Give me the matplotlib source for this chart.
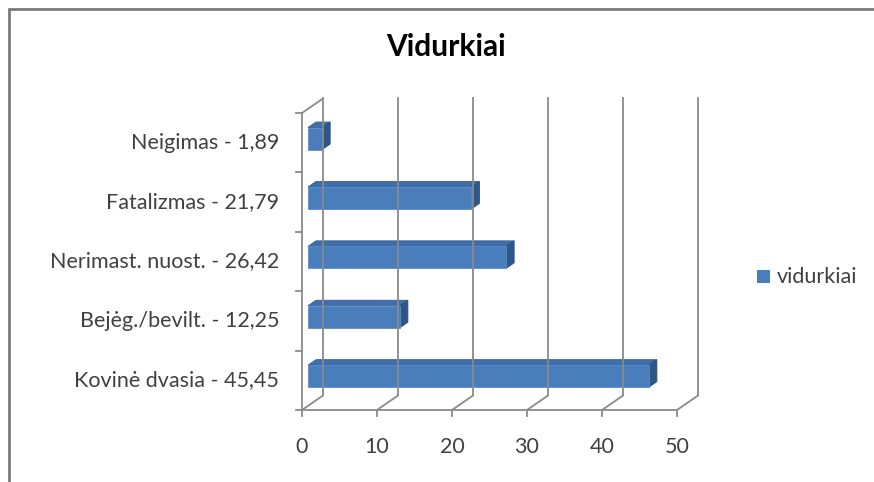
import matplotlib
matplotlib.use("Agg")
import matplotlib.pyplot as plt
from matplotlib.patches import Polygon, Rectangle
from matplotlib.lines import Line2D

categories = ["Kovinė dvasia - 45,45", "Bejėg./bevilt. - 12,25",
              "Nerimast. nuost. - 26,42", "Fatalizmas - 21,79", "Neigimas - 1,89"]
values = [45.45, 12.25, 26.42, 21.79, 1.89]
xticks = [0, 10, 20, 30, 40, 50]
series_name = "vidurkiai"
title = "Vidurkiai"

W, H = 874, 482
fig = plt.figure(figsize=(W / 100, H / 100), dpi=100)
fig.patch.set_facecolor("white")

# plot area in pixels (front plane)
x0p, x1p, ytop, ybot = 302, 677, 113, 410
ax = fig.add_axes([x0p / W, 1 - ybot / H, (x1p - x0p) / W, (ybot - ytop) / H])
ax.set_xlim(0, 50)
ax.set_ylim(-0.5, 4.5)
ax.axis("off")

# oblique depth offset (in data units)
px_x = 50 / (x1p - x0p)
px_y = 5 / (ybot - ytop)
DX = 21 * px_x
DY = 14.5 * px_y

grid_c = "#8a8a8a"
lw = 1.3
fs = 15.5

# back wall gridlines
for t in xticks:
    ax.add_line(Line2D([t + DX, t + DX], [-0.5 + DY, 4.5 + DY], color=grid_c, lw=lw, clip_on=False))
# floor diagonals and front floor line
for t in xticks:
    ax.add_line(Line2D([t, t + DX], [-0.5, -0.5 + DY], color=grid_c, lw=lw, clip_on=False))
    ax.add_line(Line2D([t, t], [-0.5, -0.5 - 6 * px_y], color=grid_c, lw=lw, clip_on=False))
    ax.text(t, -0.5 - 37 * px_y, str(t), ha="center", va="center", fontsize=fs,
            family="Lato", color="#404040")
ax.add_line(Line2D([0, 50], [-0.5, -0.5], color=grid_c, lw=lw, clip_on=False))
# left wall
ax.add_line(Line2D([0, 0], [-0.5, 4.5], color=grid_c, lw=lw, clip_on=False))
ax.add_line(Line2D([0, DX], [4.5, 4.5 + DY], color=grid_c, lw=lw, clip_on=False))
for k in range(6):
    yk = -0.5 + k
    ax.add_line(Line2D([0, -6 * px_x], [yk, yk], color=grid_c, lw=lw, clip_on=False))

# bars
f1, f2 = 6 / 21, 14 / 21
bh = 0.37
front_c, top_c, side_c = "#4a7dbb", "#3f6ea8", "#2d5787"
for i, (lab, v) in enumerate(zip(categories, values)):
    xa, ya = f1 * DX, i - bh / 2 + f1 * DY
    xb, yb = v + f1 * DX, i + bh / 2 + f1 * DY
    ddx, ddy = (f2 - f1) * DX, (f2 - f1) * DY
    top = Polygon([[xa, yb], [xb, yb], [xb + ddx, yb + ddy], [xa + ddx, yb + ddy]],
                  closed=True, fc=top_c, ec="#35609a", lw=0.6, clip_on=False)
    side = Polygon([[xb, ya], [xb + ddx, ya + ddy], [xb + ddx, yb + ddy], [xb, yb]],
                   closed=True, fc=side_c, ec="#2a5080", lw=0.6, clip_on=False)
    front = Polygon([[xa, ya], [xb, ya], [xb, yb], [xa, yb]],
                    closed=True, fc=front_c, ec="#5b8cc8", lw=0.6, clip_on=False)
    for p in (top, side, front):
        ax.add_patch(p)
    ax.text(-23 * px_x, i, lab, ha="right", va="center", fontsize=fs,
            family="Lato", color="#404040")

# title
fig.text(446 / W, 1 - 47 / H, title, ha="center", va="center", fontsize=21.5,
         fontweight="bold", family="Lato", color="#000000")

# legend
fig.patches.append(Rectangle((757 / W, 1 - 283 / H), 13 / W, 13 / H, transform=fig.transFigure,
                             fc=front_c, ec="none"))
fig.text(777 / W, 1 - 277 / H, series_name, ha="left", va="center", fontsize=fs,
         family="Lato", color="#404040")

# chart border
fig.patches.append(Rectangle((9 / W, -0.05), 1.1, 1 - 9 / H + 0.05, transform=fig.transFigure,
                             fc="none", ec="#7a7a7a", lw=2))

fig.savefig("out.png", dpi=100)
